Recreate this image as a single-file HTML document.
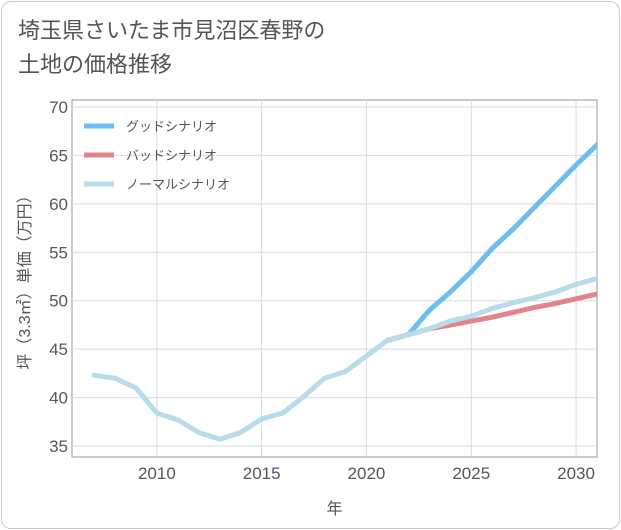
<!DOCTYPE html>
<html><head><meta charset="utf-8">
<style>
html,body{margin:0;padding:0;background:#fff;}
body{width:621px;height:530px;overflow:hidden;font-family:"Liberation Sans","Noto Sans CJK JP",sans-serif;}
#frame{position:absolute;left:1px;top:1px;width:617px;height:526px;border:1px solid #ccc;border-radius:10px;}
#title{position:absolute;left:18px;top:14px;font-size:22px;line-height:34px;color:#555;}
svg{position:absolute;left:0;top:0;}
</style></head><body>
<div id="frame"></div>
<div id="title">埼玉県さいたま市見沼区春野の<br>土地の価格推移</div>
<svg id="chart" width="621" height="530"><defs><clipPath id="pc"><rect x="72" y="100" width="525" height="357"/></clipPath></defs></svg>
<script>
const years=[2007,2008,2009,2010,2011,2012,2013,2014,2015,2016,2017,2018,2019,2020,2021,2022,2023,2024,2025,2026,2027,2028,2029,2030,2031];
const normalVals=[42.3,42.0,41.0,38.4,37.7,36.4,35.7,36.4,37.8,38.4,40.1,42.0,42.7,44.3,45.9,46.5,47.1,47.9,48.4,49.2,49.8,50.3,50.9,51.7,52.3];
const goodYears=[2021,2022,2023,2024,2025,2026,2027,2028,2029,2030,2031];
const goodVals=[45.9,46.5,49.0,50.9,53.0,55.4,57.4,59.6,61.8,64.0,66.1];
const badYears=[2021,2022,2023,2024,2025,2026,2027,2028,2029,2030,2031];
const badVals=[45.9,46.5,47.1,47.5,47.9,48.3,48.8,49.3,49.7,50.2,50.7];
const xTicks=[2010,2015,2020,2025,2030];
const yTicks=[35,40,45,50,55,60,65,70];

const NS="http://www.w3.org/2000/svg";
const svg=document.getElementById('chart');
const L=72,R=597,T=100,B=457;
const xMin=2005.95,xMax=2031,yMin=33.87,yMax=70.72;
const xs=v=>L+(v-xMin)/(xMax-xMin)*(R-L);
const ys=v=>B-(v-yMin)/(yMax-yMin)*(B-T);
function mk(tag,attrs){const e=document.createElementNS(NS,tag);for(const k in attrs)e.setAttribute(k,attrs[k]);svg.appendChild(e);return e;}

const bg=mk('rect',{x:L,y:T,width:R-L,height:B-T,fill:'#fff',stroke:'#999','stroke-width':1});


for(const t of xTicks){
  const g=mk('line',{x1:xs(t),x2:xs(t),y1:T,y2:B,stroke:'#d5dde6'});
  
  
  const lb=mk('text',{x:xs(t),y:B+22,'text-anchor':'middle','font-size':17,fill:'#556'});
  lb.textContent=t;
  
  
}
for(const t of yTicks){
  const g=mk('line',{x1:L,x2:R,y1:ys(t),y2:ys(t),stroke:'#d5dde6'});
  
  
  const lb=mk('text',{x:L-4,y:ys(t)+6,'text-anchor':'end','font-size':17,fill:'#556'});
  lb.textContent=t;
  
  
}
function line(xv,yv,color,name){
  const p=xv.map((x,i)=>xs(x).toFixed(1)+','+ys(yv[i]).toFixed(1)).join(' ');
  const e=mk('polyline',{points:p,fill:'none',stroke:color,'stroke-width':5,'stroke-linejoin':'round','stroke-linecap':'round','clip-path':'url(#pc)'});
  
  
}
line(goodYears,goodVals,'#6bbdf2','good-scenario-line');
line(badYears,badVals,'#e0858c','bad-scenario-line');
line(years,normalVals,'#b8dcea','normal-scenario-line');

const legend=[['グッドシナリオ','#6bbdf2',126],['バッドシナリオ','#e0858c',155],['ノーマルシナリオ','#b8dcea',184]];
for(const [n,c,y] of legend){
  const s=mk('line',{x1:84,x2:114,y1:y,y2:y,stroke:c,'stroke-width':5});
  
  
  const t=mk('text',{x:126,y:y+5,'font-size':13,fill:'#555'});
  t.textContent=n;
  
  
}
const xt=mk('text',{x:(L+R)/2,y:514,'text-anchor':'middle','font-size':16,fill:'#555'});
xt.textContent='年';


const yt=mk('text',{x:0,y:0,'text-anchor':'middle','font-size':16,fill:'#555',transform:'translate(30,'+((T+B)/2)+') rotate(-90)'});
yt.textContent='坪（3.3㎡）単価（万円）';


</script>
</body></html>
